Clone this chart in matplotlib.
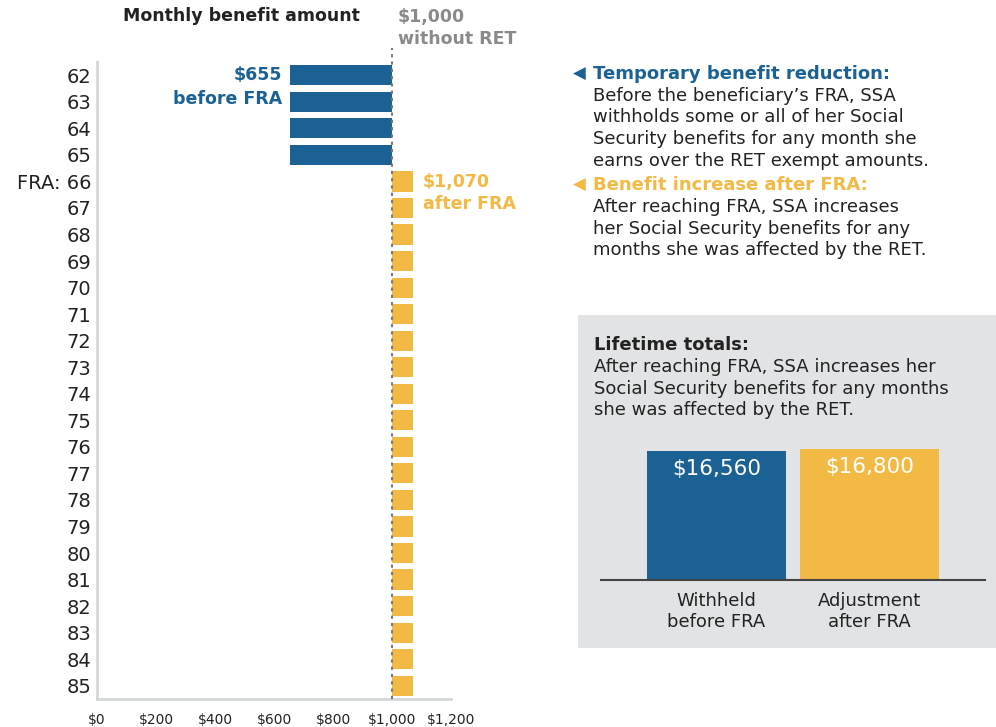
import matplotlib

matplotlib.use('Agg')
import matplotlib.pyplot as plt
from matplotlib.patches import Rectangle

# data
ages = list(range(62, 86))
age_labels = ['FRA: 66' if a == 66 else str(a) for a in ages]
benefit = [655] * 4 + [1070] * 20
baseline = 1000
x_ticks = [0, 200, 400, 600, 800, 1000, 1200]
x_tick_labels = ['$0', '$200', '$400', '$600', '$800', '$1,000', '$1,200']

total_labels = ['Withheld\nbefore FRA', 'Adjustment\nafter FRA']
total_values = [16560, 16800]
total_text = ['$16,560', '$16,800']

BLUE = '#1c6194'
YELLOW = '#f3b945'
GRAY_TXT = '#8a8a8a'
DARK = '#222222'
BOX = '#e2e3e5'

plt.rcParams['font.family'] = ['DejaVu Sans']

W, H = 996, 727
fig = plt.figure(figsize=(W / 100, H / 100), dpi=100)


def fx(px):
    return px / W


def fy(py):
    return 1 - py / H


BODY = 13
LBL = 12.5

# main axes
ax = fig.add_axes([fx(97), fy(699), fx(451) - fx(97), fy(62) - fy(699)])
lefts = [min(b, baseline) for b in benefit]
widths = [abs(b - baseline) for b in benefit]
colors = [BLUE if b < baseline else YELLOW for b in benefit]
ax.barh(ages, widths, left=lefts, height=0.76, color=colors, zorder=2)
ax.set_xlim(0, 1200)
ax.set_ylim(85.5, 61.5)
ax.set_yticks(ages)
ax.set_yticklabels(age_labels, fontsize=14, color=DARK)
ax.set_xticks(x_ticks)
ax.set_xticklabels(x_tick_labels, fontsize=10, color=DARK)
ax.tick_params(axis='y', length=0, pad=4)
ax.tick_params(axis='x', length=0, pad=10)
for s in ['top', 'right']:
    ax.spines[s].set_visible(False)
for s in ['left', 'bottom']:
    ax.spines[s].set_color('#d3d7d9')
    ax.spines[s].set_linewidth(2)
ax.axvline(baseline, ymin=0, ymax=1.022, color='#777777', linestyle=(0, (1.5, 2)),
           linewidth=1.5, clip_on=False, zorder=3)

fig.text(fx(123), fy(16), 'Monthly benefit amount', fontsize=LBL, fontweight='bold',
         color=DARK, va='center', ha='left')
fig.text(fx(398), fy(17), '$1,000', fontsize=LBL, fontweight='bold', color=GRAY_TXT, va='center')
fig.text(fx(398), fy(39), 'without RET', fontsize=LBL, fontweight='bold', color=GRAY_TXT, va='center')
fig.text(fx(282), fy(75), '$655', fontsize=LBL, fontweight='bold', color=BLUE, va='center', ha='right')
fig.text(fx(282), fy(99), 'before FRA', fontsize=LBL, fontweight='bold', color=BLUE, va='center', ha='right')
fig.text(fx(423), fy(182), '$1,070', fontsize=LBL, fontweight='bold', color=YELLOW, va='center')
fig.text(fx(423), fy(204), 'after FRA', fontsize=LBL, fontweight='bold', color=YELLOW, va='center')

# right side notes
fig.text(fx(573), fy(74), '\u25C0', fontsize=12, color=BLUE, va='center')
fig.text(fx(593), fy(74), 'Temporary benefit reduction:', fontsize=BODY, fontweight='bold',
         color=BLUE, va='center')
lines1 = ["Before the beneficiary\u2019s FRA, SSA",
          'withholds some or all of her Social',
          'Security benefits for any month she',
          'earns over the RET exempt amounts.']
for i, t in enumerate(lines1):
    fig.text(fx(593), fy(96 + 21.5 * i), t, fontsize=BODY, color=DARK, va='center')
fig.text(fx(573), fy(185), '\u25C0', fontsize=12, color=YELLOW, va='center')
fig.text(fx(593), fy(185), 'Benefit increase after FRA:', fontsize=BODY, fontweight='bold',
         color=YELLOW, va='center')
lines2 = ['After reaching FRA, SSA increases',
          'her Social Security benefits for any',
          'months she was affected by the RET.']
for i, t in enumerate(lines2):
    fig.text(fx(593), fy(207 + 21.5 * i), t, fontsize=BODY, color=DARK, va='center')

# lifetime totals box
fig.patches.append(Rectangle((fx(578), fy(648)), fx(996) - fx(578), fy(315) - fy(648),
                             transform=fig.transFigure, facecolor=BOX, edgecolor='none', zorder=0))
fig.text(fx(594), fy(345), 'Lifetime totals:', fontsize=BODY, fontweight='bold', color=DARK, va='center')
lines3 = ['After reaching FRA, SSA increases her',
          'Social Security benefits for any months',
          'she was affected by the RET.']
for i, t in enumerate(lines3):
    fig.text(fx(594), fy(367 + 21.5 * i), t, fontsize=BODY, color=DARK, va='center')

ax2 = fig.add_axes([fx(601), fy(580), fx(985) - fx(601), fy(440) - fy(580)])
ax2.set_zorder(5)
ax2.patch.set_alpha(0)
ax2.bar([0, 1], total_values, width=0.908, color=[BLUE, YELLOW])
ax2.set_xlim(-0.755, 1.755)
ax2.set_ylim(0, 16800 * 140 / 131)
ax2.set_yticks([])
ax2.set_xticks([0, 1])
ax2.set_xticklabels(total_labels, fontsize=BODY, color=DARK, linespacing=1.2)
ax2.tick_params(length=0, pad=9)
for s in ['top', 'right', 'left']:
    ax2.spines[s].set_visible(False)
ax2.spines['bottom'].set_color('#444444')
ax2.spines['bottom'].set_linewidth(1.5)
for i, (v, t) in enumerate(zip(total_values, total_text)):
    ax2.text(i, v - 1000, t, ha='center', va='top', color='white', fontsize=15.5)

fig.savefig('out.png', dpi=100)
